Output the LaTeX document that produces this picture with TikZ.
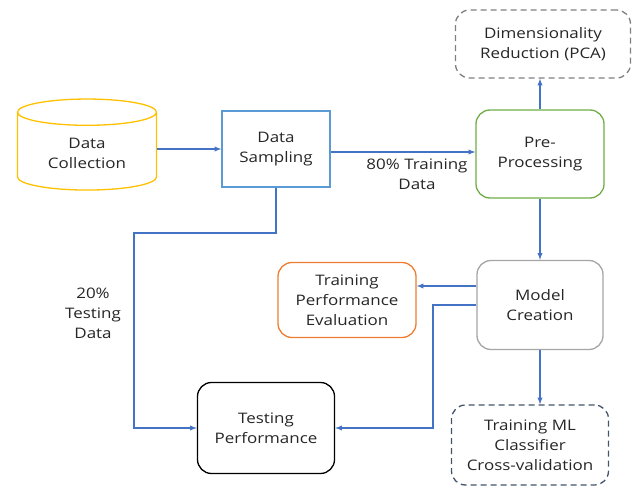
\documentclass[tikz,border=0pt]{standalone}
\usepackage{fontspec}
\setmainfont{Open Sans}[FakeStretch=1.17]
\usetikzlibrary{shapes.geometric, arrows, calc}

\definecolor{flowblue}{RGB}{68,114,196}
\definecolor{sampblue}{RGB}{91,155,213}
\definecolor{collyellow}{RGB}{255,192,0}
\definecolor{prepgreen}{RGB}{112,173,71}
\definecolor{evalorange}{RGB}{237,125,49}
\definecolor{modelgray}{RGB}{165,165,165}
\definecolor{pcagray}{RGB}{127,127,127}
\definecolor{mlslate}{RGB}{68,84,106}
\definecolor{textgray}{RGB}{38,38,38}

\begin{document}
\begin{tikzpicture}[x=1pt, y=-1pt,
    box/.style={draw, line width=1.3pt, align=center, text=textgray, font=\fontsize{14.5}{20}\selectfont, inner sep=2pt},
    roundbox/.style={box, rounded corners=14pt},
    dashbox/.style={roundbox, dash pattern=on 6pt off 4pt},
    flow/.style={->, >=latex, line width=1.3pt, draw=flowblue},
    lbl/.style={align=center, text=textgray, font=\fontsize{14.5}{20}\selectfont}]
    \useasboundingbox (0,0) rectangle (634,486);

    % --- Top row ---
    \node[box, cylinder, shape border rotate=90, aspect=0.32, draw=collyellow,
          minimum width=139pt, minimum height=91pt] (coll) at (87,153) {Data\\Collection};
    \node[box, draw=sampblue, minimum width=108pt, minimum height=76pt] (samp) at (276,149) {Data\\Sampling};
    \node[roundbox, draw=prepgreen, minimum width=128pt, minimum height=88pt] (prep) at (540,154) {Pre-\\Processing};
    \node[dashbox, draw=pcagray, minimum width=175pt, minimum height=68pt] (pca) at (543,44) {Dimensionality\\Reduction (PCA)};

    % --- Lower part ---
    \node[roundbox, draw=modelgray, minimum width=126pt, minimum height=89pt] (model) at (540,305) {Model\\Creation};
    \node[roundbox, draw=evalorange, minimum width=138pt, minimum height=75pt] (tpe) at (347,300) {Training\\Performance\\Evaluation};
    \node[roundbox, draw=black, minimum width=137pt, minimum height=91pt] (test) at (266,428) {Testing\\Performance};
    \node[dashbox, draw=mlslate, minimum width=157pt, minimum height=80pt] (ml) at (530,445) {Training ML\\Classifier\\Cross-validation};

    % Labels on the split
    \node[lbl] (lbltrain) at (417,174) {80\% Training\\Data};
    \node[lbl] (lbltest) at (93,313) {20\%\\Testing\\Data};

    % Bend points
    \coordinate (split) at (134,233);
    \coordinate (turn) at (433,305);

    % --- Connectors ---
    \draw[flow] (coll.east |- samp.west) -- (samp.west);
    \draw[flow] ($(samp.east)+(0,3)$) -- ($(samp.east -| prep.west)+(0,3)$);
    \draw[flow] (samp.south) |- (split) |- (test.west);
    \draw[flow] (prep.north) -- (prep.north |- pca.south);
    \draw[flow] (prep.south) -- (model.north);
    \draw[flow] ($(model.west)+(0,-19)$) -- ($(model.west -| tpe.east)+(0,-19)$);
    \draw[flow] (model.west) -- (turn) |- (test.east);
    \draw[flow] (model.south) -- (model.south |- ml.north);

\end{tikzpicture}
\end{document}
